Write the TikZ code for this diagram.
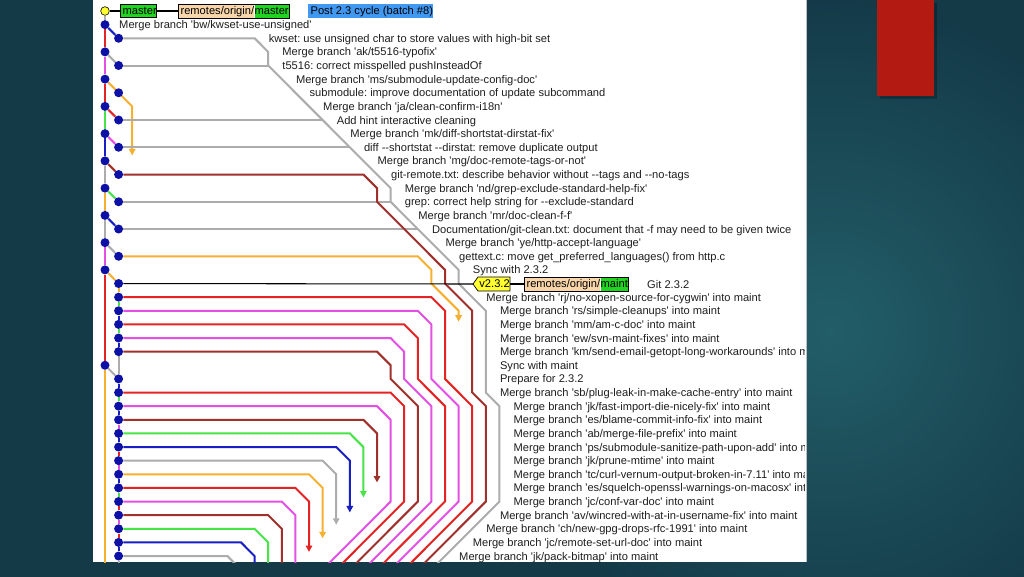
\documentclass[tikz,border=0pt]{standalone}
\usepackage{fontspec}
\setmainfont{Liberation Sans}[Ligatures=TeXOff]
\usetikzlibrary{arrows.meta}
\definecolor{gkdot}{RGB}{12,16,165}
\definecolor{gkred}{RGB}{228,36,36}
\definecolor{gkgreen}{RGB}{70,228,70}
\definecolor{gkmag}{RGB}{228,80,228}
\definecolor{gkgray}{RGB}{172,172,172}
\definecolor{gkbrown}{RGB}{160,48,44}
\definecolor{gkorange}{RGB}{246,176,48}
\definecolor{gklblue}{RGB}{22,30,196}
\definecolor{tealA}{RGB}{20,58,72}
\definecolor{tealB}{RGB}{34,94,104}
\definecolor{slidered}{RGB}{178,26,18}
\definecolor{peach}{RGB}{248,214,170}
\definecolor{tagyellow}{RGB}{255,255,50}
\definecolor{lblgreen}{RGB}{34,212,34}
\definecolor{selblue}{RGB}{64,152,240}
\definecolor{txtc}{RGB}{30,30,30}
\pgfdeclarelayer{fg}
\pgfsetlayers{main,fg}
\newcommand\gktext[3]{\node[txt] (t#1) at ({119+13.6*#2},{15+13.625*#1}) {#3};}
\frenchspacing
\begin{document}
\begin{tikzpicture}[x=0.03cm,y=-0.03cm,
  gl/.style={line width=1.7pt},
  arr/.style={-{Triangle[width=5.5pt,length=5.5pt]}},
  bdot/.style={circle,fill=gkdot,inner sep=0pt,minimum size=0.27cm},
  ydot/.style={circle,fill=tagyellow,draw=black,line width=0.5pt,inner sep=0pt,minimum size=0.26cm},
  txt/.style={anchor=base west,inner sep=0pt,font=\fontsize{9.5}{11}\selectfont,text=txtc},
  lbl/.style={anchor=west,inner xsep=0pt,inner ysep=0.5pt,text height=8pt,text depth=2.6pt,font=\fontsize{9.5}{11}\selectfont,text=black}]
\useasboundingbox (0,0) rectangle (1024,576);
% slide background
\fill[tealA] (-20,-20) rectangle (1044,596);
\shade[inner color=tealB,outer color=tealA] (830,330) circle (330);
\fill[black,opacity=0.25] (880,3) rectangle (937,99);
\fill[slidered] (877,0) rectangle (934,96);
% gitk panel
\fill[white] (93,-2) rectangle (806,562);
\draw[gray!50,line width=0.6pt] (806,0) -- (806,562);
\begin{scope}
\clip (93,0) rectangle (804,562);
\begin{scope}[shift={(105,11)},x=0.408cm,y=-0.40875cm]
\begin{pgfonlayer}{fg}
\node[ydot] (d0) at (0,0) {};
\foreach \r in {1,3,...,19} {\node[bdot] (d\r) at (0,\r) {};}
\foreach \r in {2,4,...,18} {\node[bdot] (d\r) at (1,\r) {};}
\foreach \r in {20,21,22,23,24,25,27,28,29,30,31,32,33,34,35,36,37,38,39,40} {\node[bdot] (d\r) at (1,\r) {};}
\node[bdot] (d26) at (0,26) {};
\end{pgfonlayer}
% lane 0 trunk
\draw[gl,gkgray] (d0)--(d1);
\draw[gl,gkred] (d1)--(d3);
\draw[gl,gkmag] (d3)--(d5);
\draw[gl,gkred] (d5)--(d7);
\draw[gl,gkgreen] (d7)--(d9);
\draw[gl,gklblue] (d9)--(d11);
\draw[gl,gkgray] (d11)--(d13);
\draw[gl,gkorange] (d13)--(d15);
\draw[gl,gkgray] (d15)--(d17);
\draw[gl,gkmag] (d17)--(d19);
\draw[gl,gkred] (d19)--(d26);
\draw[gl,gkorange] (d26)--(0,42);
% merges into lane 1
\draw[gl,gklblue] (d1)--(d2);
\draw[gl,gkgray] (d3)--(d4);
\draw[gl,gkorange,arr] (d5)--(d6.center)--(2,7)--(2,10.6);
\draw[gl,gkred] (d7)--(d8);
\draw[gl,gkmag] (d9)--(d10);
\draw[gl,gkbrown] (d11)--(d12);
\draw[gl,gkgreen] (d13)--(d14);
\draw[gl,gklblue] (d15)--(d16);
\draw[gl,gkgray] (d17)--(d18);
\draw[gl,gkorange] (d19)--(d20);
% lane 1 trunk (maint)
\draw[gl,gkorange] (d20)--(d21);
\draw[gl,gkgreen] (d21)--(d22);
\draw[gl,gklblue] (d22)--(d23);
\draw[gl,gkgreen] (d23)--(d24);
\draw[gl,gklblue] (d24)--(d25);
\draw[gl,gkgray] (d25)--(d27);
\draw[gl,gkgray] (d26)--(d27);
\draw[gl,gklblue] (d27)--(d28);
\draw[gl,gkgreen] (d28)--(d29);
\draw[gl,gklblue] (d29)--(d30);
\draw[gl,gkmag] (d30)--(d31);
\draw[gl,gklblue] (d31)--(d32);
\draw[gl,gkred] (d32)--(d33);
\draw[gl,gkmag] (d33)--(d34);
\draw[gl,gklblue] (d34)--(d35);
\draw[gl,gkgreen] (d35)--(d36);
\draw[gl,gkred] (d36)--(d37);
\draw[gl,gkmag] (d37)--(d38);
\draw[gl,gkred] (d38)--(d39);
\draw[gl,gklblue] (d39)--(d40);
\draw[gl,gkgray] (d40)--(1,42);
% long gray line
\draw[gl,gkgray] (d2)--(11,2)--(12,3)--(12,4)--(21,13)--(21,14)--(26,19)--(26,20)--(28,22)--(28,28)--(29,29)--(29,36)--(23,42);
\draw[gl,gkgray] (d4)--(12,4);
\draw[gl,gkgray] (d8)--(16,8);
\draw[gl,gkgray] (d10)--(18,10);
\draw[gl,gkgray] (d14)--(21,14);
\draw[gl,gkgray] (d16)--(23,16);
% brown from row 12
\draw[gl,gkbrown] (d12)--(19,12)--(20,13)--(20,14)--(25,19)--(25,20)--(27,22)--(27,28)--(28,29)--(28,36)--(22,42);
% orange from row 18
\draw[gl,gkorange,arr] (d18)--(23,18)--(24,19)--(24,20)--(26,22)--(26,22.8);
% maint merges, long lines
\draw[gl,gkred] (d21)--(24,21)--(25,22)--(25,27)--(27,29)--(27,36)--(21,42);
\draw[gl,gkmag] (d22)--(23,22)--(24,23)--(24,27)--(26,29)--(26,36)--(20,42);
\draw[gl,gkred] (d23)--(22,23)--(23,24)--(23,27)--(25,29)--(25,36)--(19,42);
\draw[gl,gkmag] (d24)--(21,24)--(22,25)--(22,27)--(24,29)--(24,36)--(18,42);
\draw[gl,gkbrown] (d25)--(20,25)--(21,26)--(21,27)--(23,29)--(23,36)--(17,42);
\draw[gl,gkred] (d28)--(21,28)--(22,29)--(22,36)--(16,42);
\draw[gl,gkmag] (d29)--(20,29)--(21,30)--(21,36)--(15,42);
% maint merges, short lines
\draw[gl,gkbrown,arr] (d30)--(19,30)--(20,31)--(20,34.6);
\draw[gl,gkgreen,arr] (d31)--(18,31)--(19,32)--(19,35.7);
\draw[gl,gklblue,arr] (d32)--(17,32)--(18,33)--(18,36.8);
\draw[gl,gkgray,arr] (d33)--(16,33)--(17,34)--(17,37.7);
\draw[gl,gkorange,arr] (d34)--(15,34)--(16,35)--(16,38.7);
\draw[gl,gkred,arr] (d35)--(14,35)--(15,36)--(15,39.7);
\draw[gl,gkmag] (d36)--(13,36)--(14,37)--(14,42);
\draw[gl,gkbrown] (d37)--(12,37)--(13,38)--(13,42);
\draw[gl,gkgreen] (d38)--(11,38)--(12,39)--(12,42);
\draw[gl,gklblue] (d39)--(10,39)--(11,40)--(11,42);
\draw[gl,gkgray] (d40)--(9,40)--(10,41)--(10,42);
\end{scope}
% row 0 labels
\node[lbl,fill=lblgreen,draw=black,line width=0.6pt] (mst) at (120,11) {\hspace{2pt}master\hspace{2pt}};
\draw[line width=0.9pt] (d0) -- (mst.west);
\node[lbl,fill=peach] (rom1) at (178,11) {\hspace{2pt}remotes/origin/};
\node[lbl,fill=lblgreen] (rom2) at (rom1.east) {master\hspace{2pt}};
\draw[line width=0.6pt] (rom1.north west) rectangle (rom2.south east);
\draw[line width=0.9pt] (mst.east) -- (rom1.west);
\node[lbl,fill=selblue] (sel) at (308,11) {\hspace{2pt}Post 2.3 cycle (batch \#8)\hspace{2pt}};
% row 20 labels
\coordinate (tagtip) at (473,284);
\node[lbl,fill=tagyellow] (tag) at (478,284) {\hspace{1pt}v2.3.2\hspace{1.5pt}};
\fill[tagyellow] (tag.north west) -- (tagtip) -- (tag.south west) -- cycle;
\draw[line width=0.6pt] (tag.north east) -- (tag.north west) -- (tagtip) -- (tag.south west) -- (tag.south east) -- cycle;
\draw[line width=0.9pt] (d20) -- (tagtip);
\node[lbl,fill=peach] (rmm1) at (524,284) {\hspace{2pt}remotes/origin/};
\node[lbl,fill=lblgreen] (rmm2) at (rmm1.east) {maint\hspace{2pt}};
\draw[line width=0.6pt] (rmm1.north west) rectangle (rmm2.south east);
\draw[line width=0.9pt] (tag.east) -- (rmm1.west);
\node[txt] (t20) at (647,288) {Git 2.3.2};
% commit texts
\gktext{1}{0}{Merge branch 'bw/kwset-use-unsigned'}
\gktext{2}{11}{kwset: use unsigned char to store values with high-bit set}
\gktext{3}{12}{Merge branch 'ak/t5516-typofix'}
\gktext{4}{12}{t5516: correct misspelled pushInsteadOf}
\gktext{5}{13}{Merge branch 'ms/submodule-update-config-doc'}
\gktext{6}{14}{submodule: improve documentation of update subcommand}
\gktext{7}{15}{Merge branch 'ja/clean-confirm-i18n'}
\gktext{8}{16}{Add hint interactive cleaning}
\gktext{9}{17}{Merge branch 'mk/diff-shortstat-dirstat-fix'}
\gktext{10}{18}{diff --shortstat --dirstat: remove duplicate output}
\gktext{11}{19}{Merge branch 'mg/doc-remote-tags-or-not'}
\gktext{12}{20}{git-remote.txt: describe behavior without --tags and --no-tags}
\gktext{13}{21}{Merge branch 'nd/grep-exclude-standard-help-fix'}
\gktext{14}{21}{grep: correct help string for --exclude-standard}
\gktext{15}{22}{Merge branch 'mr/doc-clean-f-f'}
\gktext{16}{23}{Documentation/git-clean.txt: document that -f may need to be given twice}
\gktext{17}{24}{Merge branch 'ye/http-accept-language'}
\gktext{18}{25}{gettext.c: move get\_preferred\_languages() from http.c}
\gktext{19}{26}{Sync with 2.3.2}
\gktext{21}{27}{Merge branch 'rj/no-xopen-source-for-cygwin' into maint}
\gktext{22}{28}{Merge branch 'rs/simple-cleanups' into maint}
\gktext{23}{28}{Merge branch 'mm/am-c-doc' into maint}
\gktext{24}{28}{Merge branch 'ew/svn-maint-fixes' into maint}
\gktext{25}{28}{Merge branch 'km/send-email-getopt-long-workarounds' into maint}
\gktext{26}{28}{Sync with maint}
\gktext{27}{28}{Prepare for 2.3.2}
\gktext{28}{28}{Merge branch 'sb/plug-leak-in-make-cache-entry' into maint}
\gktext{29}{29}{Merge branch 'jk/fast-import-die-nicely-fix' into maint}
\gktext{30}{29}{Merge branch 'es/blame-commit-info-fix' into maint}
\gktext{31}{29}{Merge branch 'ab/merge-file-prefix' into maint}
\gktext{32}{29}{Merge branch 'ps/submodule-sanitize-path-upon-add' into maint}
\gktext{33}{29}{Merge branch 'jk/prune-mtime' into maint}
\gktext{34}{29}{Merge branch 'tc/curl-vernum-output-broken-in-7.11' into maint}
\gktext{35}{29}{Merge branch 'es/squelch-openssl-warnings-on-macosx' into maint}
\gktext{36}{29}{Merge branch 'jc/conf-var-doc' into maint}
\gktext{37}{28}{Merge branch 'av/wincred-with-at-in-username-fix' into maint}
\gktext{38}{27}{Merge branch 'ch/new-gpg-drops-rfc-1991' into maint}
\gktext{39}{26}{Merge branch 'jc/remote-set-url-doc' into maint}
\gktext{40}{25}{Merge branch 'jk/pack-bitmap' into maint}
\end{scope}
\end{tikzpicture}
\end{document}
